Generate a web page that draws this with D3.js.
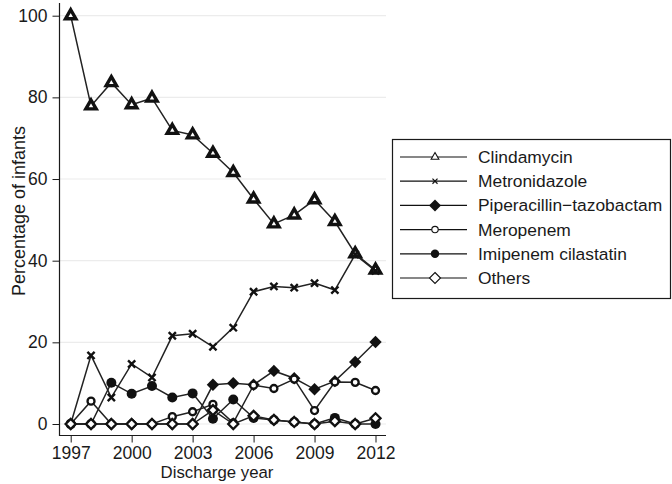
<html>
<head>
  <title></title>
  <style>
    body { margin: 0; background: #fff; }
    text { font-family: 'Liberation Sans', Arial, Helvetica, sans-serif; fill: #1a1a1a; }
  </style>
</head>
<body>
<div id='chart'></div>
<script src='https://cdn.jsdelivr.net/npm/d3@7/dist/d3.min.js'></script>
<script>
// data
var years = [1997, 1998, 1999, 2000, 2001, 2002, 2003, 2004, 2005, 2006, 2007, 2008, 2009, 2010, 2011, 2012]
var clindamycin = [100, 77.9, 83.6, 78.2, 79.8, 71.9, 70.8, 66.3, 61.6, 55.1, 49.0, 51.2, 54.9, 49.6, 41.7, 37.7]
var metronidazole = [0, 16.8, 6.5, 14.7, 11.4, 21.6, 22.1, 18.9, 23.6, 32.4, 33.7, 33.4, 34.5, 32.8, 41.5, 37.5]
var piperacillin = [0, 0, 0, 0, 0, 0, 0, 9.6, 10, 9.6, 13, 11.2, 8.5, 10.5, 15.2, 20.1]
var meropenem = [0, 5.6, 0, 0, 0, 1.8, 3.0, 4.8, 0.3, 9.5, 8.7, 11, 3.3, 10.3, 10.2, 8.2]
var imipenem = [0, 0, 10.1, 7.4, 9.3, 6.5, 7.5, 1.3, 6, 1.5, 1, 0.5, 0, 1.5, 0, 0]
var others = [0, 0, 0, 0, 0, 0, 0, 3.4, 0, 2, 1, 0.5, 0, 0.7, 0, 1.4]
var seriesNames = ['Clindamycin', 'Metronidazole', 'Piperacillin\u2212tazobactam', 'Meropenem', 'Imipenem cilastatin', 'Others']
var xTicks = [1997, 2000, 2003, 2006, 2009, 2012]
var yTicks = [0, 20, 40, 60, 80, 100]

var series = [
  {name: seriesNames[0], values: clindamycin, mark: 'triangle'},
  {name: seriesNames[1], values: metronidazole, mark: 'x'},
  {name: seriesNames[2], values: piperacillin, mark: 'diamondFill'},
  {name: seriesNames[3], values: meropenem, mark: 'circle'},
  {name: seriesNames[4], values: imipenem, mark: 'circleFill'},
  {name: seriesNames[5], values: others, mark: 'diamond'}
]

var width = 672
var height = 484
var plot = {left: 59.5, right: 386, top: 3, bottom: 435.5}

var svg = d3.select('#chart')
  .append('svg')
  .attr('width', width)
  .attr('height', height)

var xScale = d3.scaleLinear().domain([1997, 2012]).range([70.7, 375.5])
var yScale = d3.scaleLinear().domain([0, 100]).range([424, 15.7])

// grid
svg.append('g')
  .selectAll('line')
  .data(yTicks)
  .enter()
  .append('line')
  .attr('x1', plot.left)
  .attr('x2', plot.right)
  .attr('y1', function(d) { return yScale(d) })
  .attr('y2', function(d) { return yScale(d) })
  .attr('stroke', '#ececec')
  .attr('stroke-width', 1.2)

// axes
var yAxis = d3.axisLeft(yScale).tickValues(yTicks).tickSize(7).tickPadding(5)
var gy = svg.append('g')
  .attr('transform', 'translate(' + plot.left + ',0)')
  .call(yAxis)
var xAxis = d3.axisBottom(xScale).tickValues(xTicks).tickFormat(d3.format('d')).tickSize(7).tickPadding(4)
var gx = svg.append('g')
  .attr('transform', 'translate(0,' + plot.bottom + ')')
  .call(xAxis)
;[gx, gy].forEach(function(g) {
  g.select('.domain').remove()
  g.selectAll('line').attr('stroke', '#1a1a1a')
  g.selectAll('text').style('font-size', '17.5px').attr('fill', '#1a1a1a')
})
svg.append('path')
  .attr('d', 'M' + plot.left + ',' + plot.top + 'V' + plot.bottom + 'H' + plot.right)
  .attr('fill', 'none')
  .attr('stroke', '#1a1a1a')
  .attr('stroke-width', 1.2)

svg.append('text')
  .attr('transform', 'translate(25,211) rotate(-90)')
  .attr('text-anchor', 'middle')
  .style('font-size', '18px')
  .text('Percentage of infants')
svg.append('text')
  .attr('x', 217)
  .attr('y', 478)
  .attr('text-anchor', 'middle')
  .style('font-size', '16.8px')
  .text('Discharge year')

// marker drawing
function drawMark(g, type, big) {
  var k = big ? 1 : 0.7
  var sw = big ? 2.3 : 1.1
  if (type === 'triangle') {
    g.append('path').attr('d', d3.symbol().type(d3.symbolTriangle).size(big ? 46 : 26)())
      .attr('fill', '#fff').attr('stroke', '#111').attr('stroke-width', big ? 3.4 : 1.1).attr('stroke-linejoin', 'miter')
  } else if (type === 'x') {
    var r = 3.6 * k
    g.append('path').attr('d', 'M' + -r + ',' + -r + 'L' + r + ',' + r + 'M' + -r + ',' + r + 'L' + r + ',' + -r)
      .attr('stroke', '#111').attr('stroke-width', big ? 2.4 : 1.2)
  } else if (type === 'diamondFill') {
    var h = big ? 6.2 : 6
    g.append('path').attr('d', 'M0,' + -h + 'L' + h + ',0L0,' + h + 'L' + -h + ',0Z')
      .attr('fill', '#111')
  } else if (type === 'diamond') {
    var h2 = big ? 5 : 5.5
    g.append('path').attr('d', 'M0,' + -h2 + 'L' + h2 + ',0L0,' + h2 + 'L' + -h2 + ',0Z')
      .attr('fill', '#fff').attr('stroke', '#111').attr('stroke-width', sw)
  } else if (type === 'circle') {
    g.append('circle').attr('r', big ? 3.5 : 3.2)
      .attr('fill', '#fff').attr('stroke', '#111').attr('stroke-width', sw)
  } else if (type === 'circleFill') {
    g.append('circle').attr('r', big ? 5 : 4.2).attr('fill', '#111')
  }
}

var line = d3.line()
  .x(function(d, i) { return xScale(years[i]) })
  .y(function(d) { return yScale(d) })

series.forEach(function(s) {
  var g = svg.append('g')
  g.append('path')
    .attr('d', line(s.values))
    .attr('fill', 'none')
    .attr('stroke', '#222')
    .attr('stroke-width', 1.5)
  g.selectAll('g.pt')
    .data(s.values)
    .enter()
    .append('g')
    .attr('class', 'pt')
    .attr('transform', function(d, i) { return 'translate(' + xScale(years[i]) + ',' + yScale(d) + ')' })
    .each(function() { drawMark(d3.select(this), s.mark, true) })
})

// legend
var legend = svg.append('g')
legend.append('rect')
  .attr('x', 392.5)
  .attr('y', 139.5)
  .attr('width', 278)
  .attr('height', 159)
  .attr('fill', '#fff')
  .attr('stroke', '#1a1a1a')
  .attr('stroke-width', 1.2)
var rows = legend.selectAll('g.row')
  .data(series)
  .enter()
  .append('g')
  .attr('class', 'row')
  .attr('transform', function(d, i) { return 'translate(0,' + (157 + i * 24.2) + ')' })
rows.append('line')
  .attr('x1', 400).attr('x2', 467)
  .attr('stroke', '#111').attr('stroke-width', 1.2)
rows.append('g')
  .attr('transform', 'translate(435,0)')
  .each(function(d) { drawMark(d3.select(this), d.mark, false) })
rows.append('text')
  .attr('x', 478)
  .attr('y', 6)
  .style('font-size', '17.4px')
  .text(function(d) { return d.name })
</script>
</body>
</html>
